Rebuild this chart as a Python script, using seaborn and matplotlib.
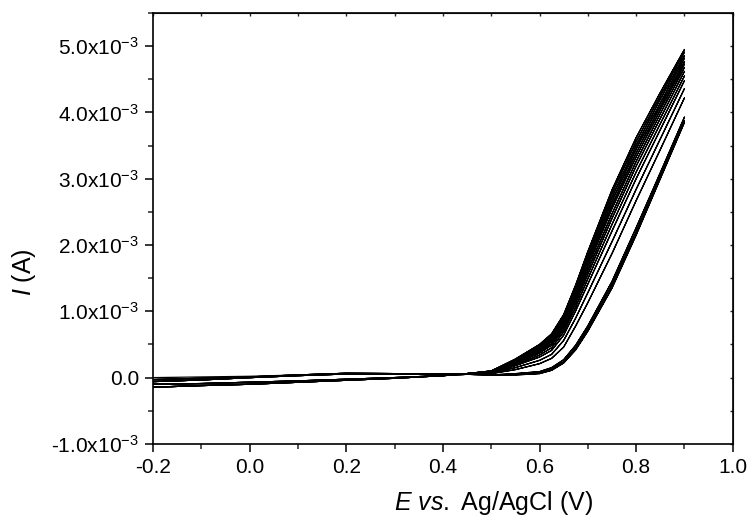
import pandas as pd
import seaborn as sns
import matplotlib.pyplot as plt
from matplotlib.ticker import MultipleLocator

# Potencial (V) en la zona baja, comun a todos los ciclos
E_LOW = [-0.2, -0.1, 0.0, 0.1, 0.2, 0.3, 0.4]
# Corriente (mA) en la zona baja: primer barrido, ciclos tempranos y tardios
I_LOW_FIRST = [0.00, 0.01, 0.02, 0.04, 0.065, 0.06, 0.05]
I_LOW_FWD_A = [-0.03, -0.01, 0.01, 0.04, 0.065, 0.06, 0.05]
I_LOW_FWD_B = [-0.06, -0.035, 0.00, 0.03, 0.055, 0.055, 0.05]
I_LOW_REV_A = [-0.10, -0.09, -0.07, -0.05, -0.025, 0.00, 0.03]
I_LOW_REV_B = [-0.145, -0.12, -0.10, -0.07, -0.04, -0.01, 0.03]

# Potencial (V) en la zona de oxidacion
E_UP = [0.45, 0.5, 0.55, 0.6, 0.625, 0.65, 0.675, 0.7, 0.75, 0.8, 0.85, 0.9]
# Corriente (mA) de cada ciclo en la zona de oxidacion
I_UP_CYCLES = [
    [0.06, 0.10, 0.28, 0.50, 0.66, 0.95, 1.40, 1.90, 2.83, 3.62, 4.30, 4.95],
    [0.06, 0.10, 0.27, 0.48, 0.63, 0.92, 1.36, 1.85, 2.78, 3.56, 4.25, 4.91],
    [0.06, 0.10, 0.26, 0.46, 0.61, 0.89, 1.33, 1.81, 2.72, 3.50, 4.20, 4.86],
    [0.06, 0.09, 0.25, 0.45, 0.58, 0.86, 1.30, 1.77, 2.66, 3.45, 4.14, 4.82],
    [0.06, 0.09, 0.24, 0.43, 0.56, 0.83, 1.26, 1.72, 2.60, 3.39, 4.09, 4.77],
    [0.06, 0.09, 0.23, 0.41, 0.54, 0.80, 1.22, 1.68, 2.55, 3.33, 4.04, 4.73],
    [0.06, 0.09, 0.22, 0.39, 0.51, 0.77, 1.18, 1.62, 2.47, 3.26, 3.98, 4.68],
    [0.06, 0.08, 0.21, 0.37, 0.49, 0.73, 1.13, 1.56, 2.40, 3.19, 3.91, 4.62],
    [0.06, 0.08, 0.19, 0.34, 0.45, 0.69, 1.07, 1.49, 2.31, 3.10, 3.83, 4.55],
    [0.06, 0.07, 0.18, 0.31, 0.41, 0.64, 1.01, 1.41, 2.21, 3.00, 3.74, 4.48],
    [0.05, 0.07, 0.15, 0.26, 0.35, 0.56, 0.90, 1.28, 2.05, 2.84, 3.60, 4.36],
    [0.05, 0.06, 0.12, 0.21, 0.29, 0.46, 0.78, 1.13, 1.87, 2.67, 3.44, 4.22],
    [0.05, 0.04, 0.06, 0.09, 0.15, 0.27, 0.49, 0.78, 1.45, 2.26, 3.09, 3.93],
    [0.05, 0.04, 0.05, 0.07, 0.13, 0.24, 0.45, 0.74, 1.40, 2.20, 3.04, 3.88],
    [0.05, 0.04, 0.04, 0.06, 0.11, 0.22, 0.42, 0.70, 1.35, 2.15, 3.00, 3.85],
]

Y_TICKS = [-1e-3, 0.0, 1e-3, 2e-3, 3e-3, 4e-3, 5e-3]
Y_LABELS = ['-1.0x10$^{-3}$', '0.0', '1.0x10$^{-3}$', '2.0x10$^{-3}$',
            '3.0x10$^{-3}$', '4.0x10$^{-3}$', '5.0x10$^{-3}$']
X_TICKS = [-0.2, 0.0, 0.2, 0.4, 0.6, 0.8, 1.0]
X_LABELS = ['-0.2', '0.0', '0.2', '0.4', '0.6', '0.8', '1.0']

# Tabla larga: barrido directo y de vuelta de cada ciclo
rows = []
half = len(I_UP_CYCLES) // 2
for k, up in enumerate(I_UP_CYCLES):
    if k == 0:
        low_f = I_LOW_FIRST
    elif k < half:
        low_f = I_LOW_FWD_A
    else:
        low_f = I_LOW_FWD_B
    low_r = I_LOW_REV_A if k < half else I_LOW_REV_B
    E = E_LOW + E_UP + E_UP[::-1] + E_LOW[::-1]
    I = low_f + up + up[::-1] + low_r[::-1]
    for e, i in zip(E, I):
        rows.append({'cycle': k, 'E': e, 'I': i * 1e-3})
df = pd.DataFrame(rows)

sns.set_style('ticks')
plt.rcParams['font.family'] = ['Liberation Sans', 'DejaVu Sans']
plt.rcParams['mathtext.fontset'] = 'custom'
plt.rcParams['mathtext.rm'] = 'Liberation Sans'
plt.rcParams['mathtext.it'] = 'Liberation Sans:italic'
plt.rcParams['text.color'] = 'black'

fig = plt.figure(figsize=(7.5, 5.21), dpi=100)
ax = fig.add_axes([0.204, 0.148, 0.773, 0.827])

sns.lineplot(data=df, x='E', y='I', units='cycle', estimator=None, sort=False,
             color='black', lw=0.9, ax=ax, legend=False)

ax.set_xlim(-0.2, 1.0)
ax.set_ylim(-1e-3, 5.5e-3)
ax.set_xticks(X_TICKS, X_LABELS)
ax.set_yticks(Y_TICKS, Y_LABELS)
ax.xaxis.set_minor_locator(MultipleLocator(0.1))
ax.yaxis.set_minor_locator(MultipleLocator(0.5e-3))
ax.tick_params(which='major', direction='out', length=6, width=1.1, labelsize=15,
               colors='black', pad=4)
ax.tick_params(which='minor', direction='out', length=3.5, width=1.1)
for s in ax.spines.values():
    s.set_linewidth(1.2)
    s.set_color('black')

# Marcas internas arriba y a la derecha
secx = ax.secondary_xaxis('top')
secx.xaxis.set_major_locator(MultipleLocator(0.1))
secx.tick_params(direction='in', length=2.5, width=1, labeltop=False)
secy = ax.secondary_yaxis('right')
secy.yaxis.set_major_locator(MultipleLocator(0.5e-3))
secy.tick_params(direction='in', length=2.5, width=1, labelright=False)

# Titulos de ejes, colocados como en el original
ax.set_xlabel('')
ax.set_ylabel('')
fig.text(494 / 750, 1 - 503 / 521, r'$\mathit{E\ vs.\ }$Ag/AgCl (V)', fontsize=18,
         ha='center', va='center', color='black')
fig.text(24 / 750, 1 - 272 / 521, r'$\mathit{I}$ (A)', fontsize=18,
         ha='center', va='center', rotation=90, color='black')

plt.savefig('out.png', dpi=100)
